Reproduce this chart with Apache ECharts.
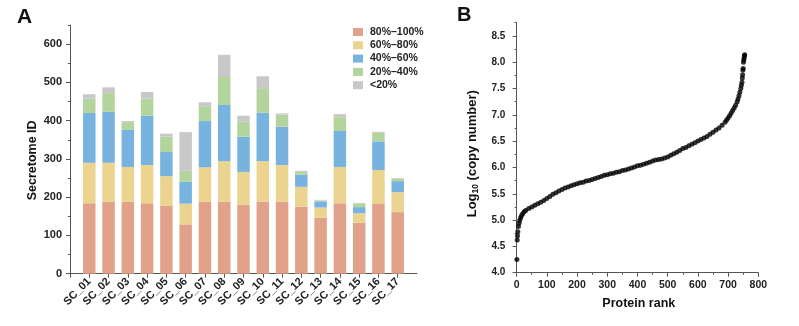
<!DOCTYPE html>
<html><head><meta charset="utf-8">
<script src="https://cdn.jsdelivr.net/npm/echarts@6/dist/echarts.min.js"></script>
<style>html,body{margin:0;padding:0;background:#fff}#c{width:799px;height:326px}</style>
</head><body><div id="c"></div>
<script>
// ---------- Panel A data ----------
const categories = ['SC_01','SC_02','SC_03','SC_04','SC_05','SC_06','SC_07','SC_08','SC_09','SC_10','SC_11','SC_12','SC_13','SC_14','SC_15','SC_16','SC_17'];
const seriesNames = ['80%\u2013100%','60%\u201380%','40%\u201360%','20%\u201340%','<20%'];
const s80to100 = [184,188,188,184,178,129,188,188,180,189,188,175,146,184,133,182,161];
const s60to80  = [106,102, 91,100, 77, 54, 90,106, 86,105, 96, 52, 27, 95, 25, 89, 52];
const s40to60  = [130,133, 97,129, 63, 57,121,147, 92,127,100, 32, 16, 94, 16, 75, 29];
const s20to40  = [ 38, 49, 20, 45, 40, 29, 37, 73, 40, 64, 32,  7,  2, 36, 10, 22,  6];
const sBelow20 = [ 11, 15,  3, 17,  8,101, 12, 58, 15, 31,  3,  3,  2,  8,  1,  3,  2];
const yTicksA = [0,100,200,300,400,500,600];
const yMinorA = [50,150,250,350,450,550,650];

// ---------- Panel B data ----------
const proteinRank = [1,2,3,4,6,8,10,13,16,20,25,30,40,50,60,70,80,90,100,110,120,130,140,150,160,170,180,190,200,210,220,230,240,250,260,270,280,290,300,310,320,330,340,350,360,370,380,390,400,410,420,430,440,450,460,470,480,490,500,510,520,530,540,550,560,570,580,590,600,610,620,630,640,650,660,670,680,690,695,700,705,710,715,720,725,730,733,736,739,742,744,746,747,748,749,750,751,752,753,754,755];
const log10Copy   = [4.25,4.62,4.70,4.78,4.88,4.94,4.99,5.04,5.08,5.12,5.16,5.18,5.22,5.25,5.28,5.31,5.34,5.37,5.41,5.45,5.49,5.52,5.55,5.58,5.61,5.63,5.65,5.67,5.69,5.71,5.72,5.74,5.75,5.77,5.79,5.81,5.83,5.85,5.86,5.88,5.89,5.91,5.92,5.94,5.95,5.97,5.99,6.01,6.03,6.04,6.06,6.08,6.10,6.12,6.14,6.15,6.16,6.18,6.20,6.23,6.26,6.29,6.32,6.36,6.38,6.41,6.44,6.47,6.50,6.53,6.56,6.59,6.63,6.67,6.71,6.75,6.80,6.86,6.90,6.94,6.98,7.03,7.08,7.13,7.18,7.25,7.30,7.36,7.43,7.50,7.56,7.62,7.70,7.76,7.85,7.88,8.00,8.04,8.08,8.12,8.14];
const xTicksB = [0,100,200,300,400,500,600,700,800];
const xMinorB = [50,150,250,350,450,550,650,750];
const yTicksB = [4.0,4.5,5.0,5.5,6.0,6.5,7.0,7.5,8.0,8.5];
const yMinorB = [4.25,4.75,5.25,5.75,6.25,6.75,7.25,7.75,8.25,8.75];

const colors = ['#E2A28A','#EBD490','#78B3DF','#B3D49D','#C8C8C8'];
const stacks = [s80to100, s60to80, s40to60, s20to40, sBelow20];
const FF = '"Liberation Sans", Arial, sans-serif';
const axisColor = '#555';
const labelStyle = {color:'#222', fontWeight:'bold', fontFamily:FF};

// category axis padded with one empty slot at each end (axis runs past the first and last bar)
const axisCatsA = [''].concat(categories, ['\u200b']);

const chart = echarts.init(document.getElementById('c'), null, {renderer:'canvas'});

const barSeries = stacks.map((arr, k) => ({
  name: seriesNames[k], type:'bar', stack:'total', xAxisIndex:0, yAxisIndex:0,
  barWidth: 12.5, itemStyle:{color:colors[k]},
  data: arr.map((v,i) => [categories[i], v])
}));

const option = {
  animation:false,
  backgroundColor:'#fff',
  textStyle:{fontFamily:FF},
  title:[
    {text:'A', left:12, top:2, textStyle:{fontSize:21, fontWeight:'bold', color:'#111', fontFamily:FF}},
    {text:'B', left:452, top:0, textStyle:{fontSize:20, fontWeight:'bold', color:'#111', fontFamily:FF}}
  ],
  legend:{
    left:348, top:21, orient:'vertical', itemWidth:10, itemHeight:8, itemGap:1.3,
    icon:'rect', data:seriesNames,
    textStyle:{fontSize:10.5, fontWeight:'bold', color:'#222', fontFamily:FF, lineHeight:12, padding:[0,0,0,2]}
  },
  grid:[
    {left:70, top:25, width:347, height:248.7},
    {left:513.3, top:22.7, width:245, height:250}
  ],
  xAxis:[
    {gridIndex:0, type:'category', data:axisCatsA, boundaryGap:false, position:'bottom',
     axisLine:{lineStyle:{color:axisColor}},
     axisTick:{show:true, length:4, interval:(idx)=>idx < axisCatsA.length-1, lineStyle:{color:axisColor}},
     axisLabel:Object.assign({interval:0, rotate:45, fontSize:11, margin:6}, labelStyle),
     splitLine:{show:false}},
    {gridIndex:1, type:'value', min:-11, max:800, position:'bottom',
     name:'Protein rank', nameLocation:'middle', nameGap:24,
     nameTextStyle:{fontSize:12.5, fontWeight:'bold', color:'#111', fontFamily:FF, padding:[0,0,0,6]},
     axisLine:{lineStyle:{color:axisColor}},
     axisTick:{length:4, customValues:xTicksB, lineStyle:{color:axisColor}},
     axisLabel:Object.assign({customValues:xTicksB, fontSize:10.5, margin:7}, labelStyle),
     splitLine:{show:false}},
    {gridIndex:1, type:'value', min:-11, max:800, position:'bottom',
     axisLine:{show:false},
     axisTick:{length:2, customValues:xMinorB, lineStyle:{color:axisColor}},
     axisLabel:{show:false}, splitLine:{show:false}}
  ],
  yAxis:[
    {gridIndex:0, type:'value', min:0, max:650, position:'left',
     name:'Secretome ID', nameLocation:'middle', nameGap:31,
     nameTextStyle:{fontSize:12.5, fontWeight:'bold', color:'#111', fontFamily:FF, padding:[0,22,0,0]},
     axisLine:{show:true, lineStyle:{color:axisColor}},
     axisTick:{show:true, length:4, customValues:yTicksA, lineStyle:{color:axisColor}},
     axisLabel:Object.assign({customValues:yTicksA, fontSize:11, margin:8}, labelStyle),
     splitLine:{show:false}},
    {gridIndex:0, type:'value', min:0, max:650, position:'left',
     axisLine:{show:false},
     axisTick:{show:true, length:2, customValues:yMinorA, lineStyle:{color:axisColor}},
     axisLabel:{show:false}, splitLine:{show:false}},
    {gridIndex:1, type:'value', min:4, max:8.75, position:'left',
     name:'{a|Log}{s|10}{a| (copy number)}', nameLocation:'middle', nameGap:33,
     nameTextStyle:{padding:[0,12,0,0], rich:{
       a:{fontSize:13, fontWeight:'bold', color:'#111', fontFamily:FF, lineHeight:16},
       s:{fontSize:8.5, fontWeight:'bold', color:'#111', fontFamily:FF, lineHeight:8, verticalAlign:'bottom'}
     }},
     axisLine:{show:true, lineStyle:{color:axisColor}},
     axisTick:{show:true, length:4, customValues:yTicksB, lineStyle:{color:axisColor}},
     axisLabel:Object.assign({customValues:yTicksB, fontSize:10, margin:8, formatter:(v)=>v.toFixed(1)}, labelStyle),
     splitLine:{show:false}},
    {gridIndex:1, type:'value', min:4, max:8.75, position:'left',
     axisLine:{show:false},
     axisTick:{show:true, length:2, customValues:yMinorB, lineStyle:{color:axisColor}},
     axisLabel:{show:false}, splitLine:{show:false}}
  ],
  series: barSeries.concat([{
    type:'scatter', xAxisIndex:1, yAxisIndex:2, symbol:'circle', symbolSize:5,
    itemStyle:{color:'#000'}, data: proteinRank.map((r,i)=>[r, log10Copy[i]])
  }])
};
chart.setOption(option);
</script>
</body></html>
